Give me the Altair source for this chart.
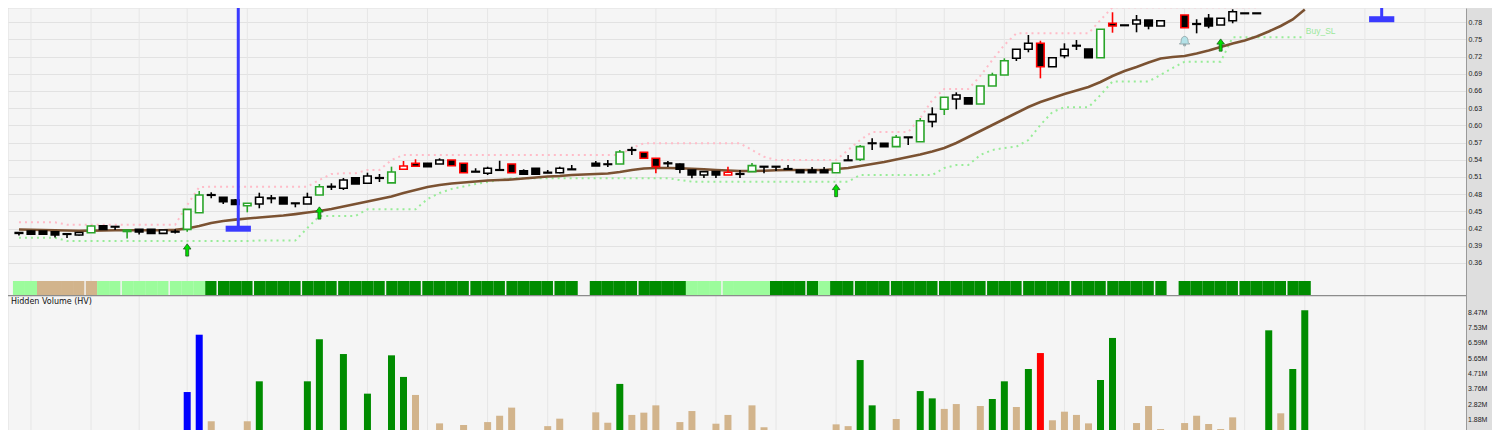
import altair as alt
import pandas as pd

# ---------------- data ----------------
idx = list(range(108))

opens = [0.4131, 0.4158, 0.4158, 0.4146, 0.4100, 0.4088, 0.4127, 0.4250, 0.4237, 0.4149,
         0.4187, 0.4187, 0.4117, 0.4140, 0.4187, 0.4477, 0.4781, 0.4746, 0.4699, 0.4599,
         0.4629, 0.4723, 0.4746, 0.4646, 0.4629, 0.4786, 0.4925, 0.4903, 0.5088, 0.4990,
         0.5077, 0.4998, 0.5234, 0.5339, 0.5339, 0.5327, 0.5396, 0.5339, 0.5187, 0.5164,
         0.5217, 0.5327, 0.5210, 0.5252, 0.5170, 0.5175, 0.5228, None, 0.5339, 0.5318,
         0.5327, 0.5566, 0.5531, 0.5426, 0.5333, 0.5327, 0.5222, 0.5135, 0.5193, 0.5135,
         0.5147, 0.5193, 0.5274, 0.5274, 0.5234, 0.5222, 0.5222, 0.5222, 0.5175, 0.5386,
         0.5408, 0.5684, 0.5687, 0.5629, 0.5787, 0.5716, 0.6065, 0.6281, 0.6460, 0.6483,
         0.6373, 0.6687, 0.6879, 0.7170, 0.7327, 0.7432, 0.7024, 0.7216, 0.7385, 0.7333,
         0.7181, 0.7781, 0.7741, 0.7769, 0.7838, 0.7734, None, 0.7926, 0.7763, 0.7868,
         0.7751, 0.7826, 0.7950, 0.7950, 0.8100, 0.8380, 0.8500, 0.8800]
highs = [0.4131, 0.4166, 0.4158, 0.4146, 0.4110, 0.4140, 0.4253, 0.4263, 0.4245, 0.4175,
         0.4193, 0.4187, 0.4175, 0.4187, 0.4541, 0.4856, 0.4833, 0.4751, 0.4716, 0.4641,
         0.4826, 0.4786, 0.4751, 0.4646, 0.4826, 0.4978, 0.4990, 0.5083, 0.5092, 0.5175,
         0.5152, 0.5280, 0.5379, 0.5409, 0.5345, 0.5426, 0.5396, 0.5339, 0.5252, 0.5280,
         0.5384, 0.5327, 0.5234, 0.5252, 0.5222, 0.5280, 0.5309, None, 0.5379, 0.5396,
         0.5571, 0.5629, 0.5536, 0.5431, 0.5379, 0.5336, 0.5222, 0.5193, 0.5193, 0.5280,
         0.5222, 0.5344, 0.5285, 0.5285, 0.5309, 0.5222, 0.5274, 0.5274, 0.5339, 0.5484,
         0.5658, 0.5775, 0.5687, 0.5832, 0.5797, 0.6129, 0.6315, 0.6490, 0.6577, 0.6483,
         0.6687, 0.6919, 0.7170, 0.7327, 0.7577, 0.7477, 0.7181, 0.7432, 0.7489, 0.7333,
         0.7676, 0.7973, 0.7751, 0.7926, 0.7838, 0.7826, None, 0.7926, 0.7851, 0.7943,
         0.7868, 0.8025, 0.7960, 0.7960, 0.8450, 0.8560, 0.8850, 0.9300]
lows = [0.4079, 0.4097, 0.4088, 0.4045, 0.4036, 0.4079, 0.4123, 0.4175, 0.4175, 0.4027,
        0.4097, 0.4114, 0.4117, 0.4114, 0.4146, 0.4477, 0.4729, 0.4629, 0.4611, 0.4484,
        0.4554, 0.4641, 0.4629, 0.4571, 0.4629, 0.4786, 0.4873, 0.4873, 0.4978, 0.4990,
        0.5013, 0.4998, 0.5234, 0.5287, 0.5280, 0.5327, 0.5297, 0.5175, 0.5187, 0.5135,
        0.5217, 0.5175, 0.5147, 0.5147, 0.5170, 0.5164, 0.5228, None, 0.5292, 0.5274,
        0.5327, 0.5484, 0.5426, 0.5164, 0.5274, 0.5164, 0.5077, 0.5083, 0.5083, 0.5135,
        0.5083, 0.5193, 0.5164, 0.5204, 0.5234, 0.5175, 0.5175, 0.5175, 0.5175, 0.5386,
        0.5379, 0.5571, 0.5629, 0.5629, 0.5658, 0.5716, 0.5967, 0.6181, 0.6281, 0.6373,
        0.6373, 0.6687, 0.6879, 0.7123, 0.7275, 0.6821, 0.7024, 0.7170, 0.7315, 0.7181,
        0.7181, 0.7617, 0.7741, 0.7624, 0.7676, 0.7734, None, 0.7704, 0.7606, 0.7694,
        0.7751, 0.7781, 0.7950, 0.7950, 0.8090, 0.8320, 0.8450, 0.8750]
closes = [0.4117, 0.4100, 0.4100, 0.4088, 0.4110, 0.4131, 0.4244, 0.4184, 0.4228, 0.4175,
          0.4140, 0.4117, 0.4175, 0.4149, 0.4536, 0.4786, 0.4791, 0.4669, 0.4620, 0.4641,
          0.4746, 0.4734, 0.4629, 0.4636, 0.4746, 0.4931, 0.4936, 0.5048, 0.4978, 0.5117,
          0.5088, 0.5187, 0.5292, 0.5287, 0.5280, 0.5396, 0.5297, 0.5175, 0.5198, 0.5252,
          0.5227, 0.5175, 0.5147, 0.5147, 0.5181, 0.5252, 0.5239, None, 0.5292, 0.5327,
          0.5536, 0.5576, 0.5426, 0.5280, 0.5344, 0.5234, 0.5135, 0.5193, 0.5135, 0.5182,
          0.5158, 0.5298, 0.5285, 0.5285, 0.5245, 0.5175, 0.5175, 0.5175, 0.5339, 0.5396,
          0.5629, 0.5693, 0.5629, 0.5792, 0.5797, 0.6082, 0.6193, 0.6490, 0.6530, 0.6373,
          0.6687, 0.6879, 0.7128, 0.7327, 0.7432, 0.7024, 0.7181, 0.7327, 0.7395, 0.7181,
          0.7676, 0.7734, 0.7751, 0.7838, 0.7734, 0.7826, None, 0.7704, 0.7774, 0.7734,
          0.7868, 0.7983, 0.7960, 0.7960, 0.8420, 0.8500, 0.8800, 0.9250]
# g = green-outlined up, w = white up, b = black down, r = red-outlined down,
# q = red-outlined up, d = doji, - = no bar
kinds = list("bbbbdwgbdg" "bbwdggdbbg" "wdbdwgdwbw" "dgqrbwrrdw" "drbbdwd-bd"
             "gdrrdbbwbq" "dgdddbbbgd" "gdbgdgwgwb" "gggwwrwwdb" "grdwbw-rdb"
             "wwddgwgg")

ma = [0.4184, 0.4180, 0.4175, 0.4170, 0.4166, 0.4163, 0.4165, 0.4168, 0.4172, 0.4172,
      0.4170, 0.4170, 0.4172, 0.4178, 0.4201, 0.4244, 0.4296, 0.4331, 0.4357, 0.4375,
      0.4393, 0.4410, 0.4427, 0.4453, 0.4480, 0.4506, 0.4541, 0.4585, 0.4629, 0.4672,
      0.4716, 0.4760, 0.4821, 0.4873, 0.4925, 0.4960, 0.4987, 0.5004, 0.5021, 0.5039,
      0.5048, 0.5056, 0.5074, 0.5091, 0.5109, 0.5117, 0.5135, 0.5143, 0.5152, 0.5161,
      0.5187, 0.5222, 0.5248, 0.5257, 0.5257, 0.5252, 0.5245, 0.5234, 0.5222, 0.5213,
      0.5204, 0.5204, 0.5210, 0.5217, 0.5222, 0.5222, 0.5222, 0.5222, 0.5239, 0.5257,
      0.5292, 0.5327, 0.5361, 0.5405, 0.5449, 0.5492, 0.5545, 0.5606, 0.5693, 0.5798,
      0.5902, 0.6007, 0.6112, 0.6216, 0.6321, 0.6408, 0.6478, 0.6548, 0.6609, 0.6670,
      0.6757, 0.6862, 0.6949, 0.7019, 0.7097, 0.7167, 0.7193, 0.7210, 0.7254, 0.7306,
      0.7367, 0.7428, 0.7481, 0.7551, 0.7638, 0.7734, 0.7847, 0.8022]
upper = [0.4310, 0.4310, 0.4310, 0.4310, 0.4268, 0.4268, 0.4268, 0.4268, 0.4268, 0.4268,
         0.4268, 0.4268, 0.4268, 0.4268, 0.4611, 0.4925, 0.4931, 0.4931, 0.4931, 0.4931,
         0.4931, 0.4931, 0.4931, 0.4931, 0.4931, 0.5048, 0.5152, 0.5164, 0.5164, 0.5222,
         0.5222, 0.5396, 0.5484, 0.5484, 0.5484, 0.5484, 0.5484, 0.5484, 0.5484, 0.5484,
         0.5484, 0.5484, 0.5484, 0.5484, 0.5484, 0.5484, 0.5484, 0.5484, 0.5484, 0.5484,
         0.5484, 0.5606, 0.5688, 0.5688, 0.5688, 0.5688, 0.5688, 0.5688, 0.5688, 0.5688,
         0.5688, 0.5571, 0.5454, 0.5396, 0.5396, 0.5396, 0.5396, 0.5396, 0.5396, 0.5571,
         0.5745, 0.5885, 0.5885, 0.5885, 0.5885, 0.6129, 0.6443, 0.6635, 0.6635, 0.6635,
         0.6862, 0.7141, 0.7402, 0.7606, 0.7606, 0.7606, 0.7606, 0.7606, 0.7606, 0.7606,
         0.7838, 0.8060, 0.8060, 0.8060, 0.8060, 0.8060, 0.8060, 0.8060, 0.8060, 0.8060,
         0.8060, 0.8060, 0.8060, 0.8060, 0.8450, 0.8560, 0.8850, 0.9300]
buy_sl = [0.4041, 0.4041, 0.4041, 0.4041, 0.3984, 0.3984, 0.3984, 0.3984, 0.3984, 0.3984,
          0.3984, 0.3984, 0.3984, 0.3984, 0.3984, 0.3984, 0.3984, 0.3984, 0.3984, 0.3984,
          0.3992, 0.3992, 0.3992, 0.3992, 0.4210, 0.4419, 0.4419, 0.4419, 0.4419, 0.4536,
          0.4536, 0.4536, 0.4536, 0.4536, 0.4716, 0.4821, 0.4891, 0.4934, 0.4978, 0.5013,
          0.5048, 0.5077, 0.5077, 0.5077, 0.5077, 0.5077, 0.5077, 0.5077, 0.5077, 0.5077,
          0.5077, 0.5077, 0.5077, 0.5077, 0.5077, 0.5048, 0.5018, 0.5018, 0.5018, 0.5018,
          0.5018, 0.5018, 0.5018, 0.5018, 0.5018, 0.5018, 0.5018, 0.5018, 0.5018, 0.5018,
          0.5135, 0.5135, 0.5135, 0.5135, 0.5135, 0.5135, 0.5135, 0.5257, 0.5309, 0.5309,
          0.5484, 0.5571, 0.5606, 0.5629, 0.5745, 0.6007, 0.6234, 0.6316, 0.6316, 0.6316,
          0.6530, 0.6766, 0.6766, 0.6766, 0.6766, 0.6879, 0.7001, 0.7111, 0.7111, 0.7111,
          0.7111, 0.7537, 0.7537, 0.7537, 0.7537, 0.7537, 0.7537, 0.7537]

# colour strip under the price panel: L = light green, T = tan, D = dark green, - = none
strip = list("LLTTTTTLLL" "LLLLLLDDDD" "DDDDDDDDDD" "DDDDDDDDDD" "DDDDDDD-DD"
             "DDDDDDLLLL" "LLLDDDDLDD" "DDDDDDDDDD" "DDDDDDDDDD" "DDDDDD-DDD"
             "DDDDDDDD")
strip_breaks = [5.5, 8.5, 12.5, 16.5, 19.5, 23.5, 26.5, 30.5, 33.5, 37.5, 40.5, 44.5,
                51.5, 58.5, 65.5, 69.5, 72.5, 76.5, 80.5, 83.5, 87.5, 90.5, 94.5, 101.5, 105.5]

# hidden volume (millions) and its colour code
vols = [0.8, 0.6, 0.9, 0.7, 0.5, 0.8, 1.0, 0.9, 0.6, 0.7,
        0.8, 0.5, 0.6, 0.9, 3.60, 7.13, 1.80, 0.9, 0.7, 1.80,
        4.26, 1.0, 0.8, 0.9, 4.26, 6.85, 1.1, 5.94, 0.9, 3.50,
        1.0, 5.86, 4.53, 3.42, 1.1, 1.67, 1.0, 1.57, 0.8, 1.75,
        2.14, 2.64, 1.0, 0.9, 1.50, 1.96, 1.1, None, 2.35, 1.71,
        4.10, 2.19, 2.33, 2.78, 1.0, 1.75, 2.43, 1.1, 1.65, 2.19,
        0.9, 2.78, 1.43, 1.0, 0.8, 0.7, 0.9, 1.0, 1.61, 1.50,
        5.57, 2.78, 1.1, 1.94, 1.0, 3.66, 3.21, 2.56, 2.86, 1.0,
        2.74, 3.17, 4.26, 2.68, 5.02, 6.00, 1.86, 2.39, 2.19, 1.67,
        4.34, 6.93, 1.1, 1.69, 2.74, 1.32, None, 1.69, 2.14, 1.63,
        1.32, 2.04, 1.0, 0.9, 7.40, 2.29, 5.02, 8.63]
vol_kind = list("TTTTTTTTTT" "TTTTBBTTTT" "GTTTGGTGTG" "TGGTTTTTTT" "TTTTTTT-TT"
                "GTTTTTTTTT" "TTTTTTTTTT" "GGTTTGGTTT" "TGGTGRTTTT" "GGTTTT-TTT"
                "TTTTGTGG")

arrow_i = [14, 25, 68, 100]
arrow_p = [0.3827, 0.4472, 0.4864, 0.7402]
bell_i = [97]
bell_p = [0.7478]
marker_i = [18.25, 113.4]
marker_p = [0.4198, 0.7852]

vgrid = [1, 6, 10, 14, 19, 24, 29, 34, 39, 44, 48, 53, 58, 63, 68, 73, 77, 82, 87,
         92, 97, 102, 107, 112, 117]
price_ticks = [0.36, 0.39, 0.42, 0.45, 0.48, 0.51, 0.54, 0.57, 0.60, 0.63, 0.66,
               0.69, 0.72, 0.75, 0.78, 0.81]
vol_ticks = [1.88, 2.82, 3.76, 4.71, 5.65, 6.59, 7.53, 8.47]

# ---------------- tables ----------------
cdf = pd.DataFrame({"i": idx, "o": opens, "h": highs, "l": lows, "c": closes, "k": kinds})
cdf = cdf[cdf["k"] != "-"]
ldf = pd.DataFrame({"i": idx, "ma": ma, "up": upper, "sl": buy_sl})
sdf = pd.DataFrame({"i": idx, "s": strip})
sdf = sdf[sdf["s"] != "-"]
bdf = pd.DataFrame({"b": strip_breaks})
gdf = pd.DataFrame({"g": vgrid})
vdf = pd.DataFrame({"i": idx, "v": vols, "vk": vol_kind})
vdf = vdf[vdf["vk"] != "-"]
vtdf = pd.DataFrame({"v": vol_ticks})
adf = pd.DataFrame({"i": arrow_i, "p": arrow_p})
bell_df = pd.DataFrame({"i": bell_i, "p": bell_p})
mdf = pd.DataFrame({"i": marker_i, "p": marker_p})
sl_label = pd.DataFrame({"i": [idx[-1]], "p": [buy_sl[-1]], "t": ["Buy_SL"]})
hv_label = pd.DataFrame({"t": ["Hidden Volume (HV)"]})

# ---------------- geometry / scales ----------------
W = 1458          # plot width
H = 422           # both panels together
XS = alt.Scale(domain=[-0.496, 120.0], nice=False, zero=False)
# price panel occupies the top 288 px, volume panel the bottom 134 px
YP = alt.Scale(domain=[0.06869, 0.80477], nice=False, zero=False)
YV = alt.Scale(domain=[1.262, 27.247], nice=False, zero=False)
FONT = "Liberation Sans"
LABEL_SIZE = 7

AXP = alt.Axis(orient="right", values=price_ticks, format=".2f", grid=True,
               gridColor="#e2e2e2", gridWidth=1, ticks=False, domain=True,
               domainColor="#9a9a9a", labelFont=FONT, labelFontSize=LABEL_SIZE,
               labelColor="#222222", labelPadding=2)


def xq(f):
    return alt.X(f"{f}:Q", scale=XS, axis=None, title=None)


def yp(f, with_axis=False):
    if with_axis:
        return alt.Y(f"{f}:Q", scale=YP, axis=AXP, title=None)
    return alt.Y(f"{f}:Q", scale=YP, axis=None, title=None)


def yv(f):
    return alt.Y(f"{f}:Q", scale=YV, axis=None, title=None)


kind_dom = ["g", "w", "b", "r", "q", "d"]
body_fill = ["#ffffff", "#ffffff", "#000000", "#000000", "#ffffff", "#ffffff"]
body_stroke = ["#2aa52a", "#000000", "#000000", "#ff0000", "#ff0000", "#000000"]

grid_x = alt.Chart(gdf).mark_rule(color="#e6e6e6", strokeWidth=1).encode(x=xq("g"))

strip_rect = alt.Chart(sdf).transform_calculate(
    x0="datum.i - 0.5", x1="datum.i + 0.5"
).mark_rect(clip=True).encode(
    x=xq("x0"), x2="x1:Q", y=alt.value(273), y2=alt.value(287),
    color=alt.Color("s:N", scale=alt.Scale(domain=["L", "T", "D"],
                                           range=["#9cfc9c", "#d2b48c", "#008c00"]),
                    legend=None),
)
strip_sep = alt.Chart(bdf).mark_rule(color="#f2f2f2", strokeWidth=1.5).encode(
    x=xq("b"), y=alt.value(273), y2=alt.value(287))
border = alt.Chart(hv_label).mark_rule(color="#8c8c8c", strokeWidth=1.2).encode(
    y=alt.value(287.7))

sl_line = alt.Chart(ldf).mark_line(color="#98ec98", strokeWidth=2, strokeDash=[2, 4],
                                   clip=True).encode(x=xq("i"), y=yp("sl", True))
up_line = alt.Chart(ldf).mark_line(color="#ffbcc8", strokeWidth=2, strokeDash=[2, 4],
                                   clip=True).encode(x=xq("i"), y=yp("up"))
ma_line = alt.Chart(ldf).mark_line(color="#7b5232", strokeWidth=2.6, clip=True).encode(
    x=xq("i"), y=yp("ma"))

wicks = alt.Chart(cdf).mark_rule(strokeWidth=1.6, clip=True).encode(
    x=xq("i"), y=yp("l"), y2="h:Q",
    color=alt.Color("k:N", scale=alt.Scale(domain=kind_dom, range=body_stroke), legend=None),
)
bodies = alt.Chart(cdf).mark_bar(size=7.5, strokeWidth=1.6, clip=True).encode(
    x=xq("i"), y=yp("o"), y2="c:Q",
    fill=alt.Fill("k:N", scale=alt.Scale(domain=kind_dom, range=body_fill), legend=None),
    stroke=alt.Stroke("k:N", scale=alt.Scale(domain=kind_dom, range=body_stroke), legend=None),
)

arrow_path = "M0,-1L0.62,-0.15L0.24,-0.15L0.24,1L-0.24,1L-0.24,-0.15L-0.62,-0.15Z"
arrows = alt.Chart(adf).mark_point(shape=arrow_path, size=150, filled=True,
                                   fill="#00e000", stroke="#1d5e1d", strokeWidth=0.8,
                                   opacity=1, clip=True).encode(x=xq("i"), y=yp("p"))
bell_path = ("M-0.85,0.55L-0.6,0.3C-0.55,-0.1 -0.55,-0.65 0,-0.7"
             "C0.55,-0.65 0.55,-0.1 0.6,0.3L0.85,0.55Z"
             "M-0.2,0.6L0.2,0.6L0.15,0.85L-0.15,0.85Z")
bell = alt.Chart(bell_df).mark_point(shape=bell_path, size=150, filled=True,
                                     fill="#b4e2e8", stroke="#8a9a9c", strokeWidth=0.8,
                                     opacity=1, clip=True).encode(x=xq("i"), y=yp("p"))

marker_stem = alt.Chart(mdf).mark_rule(color="#3a3aff", strokeWidth=3, clip=True).encode(
    x=xq("i"), y=yp("p"), y2=alt.datum(1.2))
marker_bar = alt.Chart(mdf).transform_calculate(
    a="datum.i - 1.05", b="datum.i + 1.05"
).mark_rule(color="#3a3aff", strokeWidth=6, strokeCap="butt", clip=True).encode(
    x=xq("a"), x2="b:Q", y=yp("p"))

sl_text = alt.Chart(sl_label).mark_text(align="left", baseline="bottom", dx=1, dy=-1,
                                        font=FONT, fontSize=8.5, color="#9ce89c").encode(
    x=xq("i"), y=yp("p"), text="t:N")

# ---------------- volume part ----------------
vbars = alt.Chart(vdf).mark_bar(size=7, clip=True).encode(
    x=xq("i"),
    y=yv("v"),
    y2=alt.value(H),
    color=alt.Color("vk:N", scale=alt.Scale(domain=["T", "G", "B", "R"],
                                            range=["#d2b48c", "#008c00", "#0000ff", "#ff0000"]),
                    legend=None),
)
vlabels = alt.Chart(vtdf).transform_calculate(
    t="format(datum.v, '.2f') + 'M'"
).mark_text(align="left", baseline="middle", font=FONT, fontSize=LABEL_SIZE,
            color="#222222").encode(x=alt.value(W + 2), y=yv("v"), text="t:N")
hv_text = alt.Chart(hv_label).mark_text(align="left", baseline="middle", font="DejaVu Sans",
                                        fontSize=8, color="#111111").encode(
    x=alt.value(3), y=alt.value(294), text="t:N")

chart = alt.layer(
    grid_x, strip_rect, strip_sep, border, sl_line, up_line, ma_line,
    wicks, bodies, arrows, bell, marker_stem, marker_bar, sl_text,
    vbars, vlabels, hv_text
).resolve_scale(
    y="independent", color="independent", fill="independent", stroke="independent"
).properties(
    width=W, height=H,
    autosize=alt.AutoSizeParams(type="none"),
    padding={"left": 0, "top": 0, "right": 26, "bottom": 0},
    background="#dedede",
).configure_view(fill="#f5f5f5", stroke="transparent")

chart.save("out.html", embed_options={"renderer": "svg", "actions": False})
